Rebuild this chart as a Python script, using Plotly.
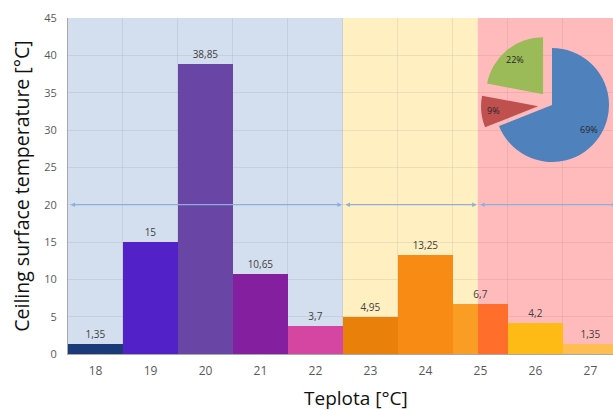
import math
import plotly.graph_objects as go

# ---- data -------------------------------------------------------------
temps = [18, 19, 20, 21, 22, 23, 24, 25, 26, 27]
share = [1.35, 15, 38.85, 10.65, 3.7, 4.95, 13.25, 6.7, 4.2, 1.35]
bar_colors = ['#1B3A78', '#5321C8', '#6945A6', '#8420A0', '#D446A2',
              '#E98009', '#F78B13', '#F99D25', '#FFBB15', '#FFBE52']
bar_labels = [f"{v:g}".replace('.', ',') for v in share]

zone_bounds = [(17.5, 22.5), (22.5, 24.95), (24.95, 27.5)]
zone_colors = ['#D3DEEF', '#FFEFC1', '#FFBBBB']
warm_bar_color = '#FF6E2A'   # part of a bar lying inside the warm zone

pie_values = [69, 9, 22]
pie_colors = ['#4F81BD', '#C0504D', '#9BBB59']

# ---- geometry (pixels) ---------------------------------------------------
W, H = 613, 410
ML, MR, MT, MB = 68, 0, 18, 56
plot_l, plot_r, plot_t, plot_b = ML, W - MR, MT, H - MB
pw, ph = plot_r - plot_l, plot_b - plot_t
x_range = [17.5, 27.41]

FONT = 'Open Sans'

fig = go.Figure()

# histogram bars
fig.add_trace(go.Bar(
    x=temps, y=share, marker=dict(color=bar_colors, line=dict(width=0)),
    text=bar_labels, textposition='outside', cliponaxis=False,
    constraintext='none',
    textfont=dict(family=FONT, size=10, color='#404040'),
    hoverinfo='x+y', showlegend=False,
))

# bar portions that fall inside the warm zone get a warmer tint
warm_start = zone_bounds[2][0]
for t, v in zip(temps, share):
    if t - 0.5 < warm_start < t + 0.5:
        fig.add_trace(go.Bar(
            x=[t], y=[v], offset=warm_start - t, width=t + 0.5 - warm_start,
            marker=dict(color=warm_bar_color, line=dict(width=0)),
            hoverinfo='skip', showlegend=False,
        ))

# coloured zones behind the plot
for (x0, x1), c in zip(zone_bounds, zone_colors):
    fig.add_shape(type='rect', xref='x', yref='y', x0=x0, x1=x1, y0=0, y1=45,
                  fillcolor=c, line=dict(width=0), layer='below')

# double-headed arrows marking each zone at 20 °C
for x0, x1 in zone_bounds:
    fig.add_annotation(x=x1, y=20, ax=x0, ay=20, xref='x', yref='y',
                       axref='x', ayref='y', text='', showarrow=True,
                       arrowside='end+start', arrowhead=2, arrowsize=0.7,
                       arrowwidth=1.3, arrowcolor='#8DB0DA',
                       standoff=1, startstandoff=1)

# ---- inset pie, drawn as one trace per slice so slices can be offset ----
pie_cx, pie_cy, pie_r, pull_px = 552, 105, 57, 14
label_k = 0.78   # radial position of the percent labels, fraction of radius


def domain_at(cx, cy, r):
    return dict(x=[(cx - r - plot_l) / pw, (cx + r - plot_l) / pw],
                y=[(plot_b - (cy + r)) / ph, (plot_b - (cy - r)) / ph])


total = sum(pie_values)
cum = 0
for i, v in enumerate(pie_values):
    mid = 2 * math.pi * (cum + v / 2) / total   # clockwise from 12 o'clock
    cum += v
    pull = 0 if i == 0 else pull_px
    cx = pie_cx + pull * math.sin(mid)
    cy = pie_cy - pull * math.cos(mid)
    colors = ['rgba(0,0,0,0)'] * len(pie_values)
    colors[i] = pie_colors[i]
    fig.add_trace(go.Pie(
        values=pie_values, sort=False, direction='clockwise', rotation=0,
        marker=dict(colors=colors, line=dict(width=0)),
        textinfo='none', domain=domain_at(cx, cy, pie_r),
        hoverinfo='skip', showlegend=False,
    ))
    # percent label of this slice
    lx = cx + label_k * pie_r * math.sin(mid)
    ly = cy - label_k * pie_r * math.cos(mid)
    fig.add_annotation(text=f"{round(100 * v / total)}%", xref='paper',
                       yref='paper', x=(lx - plot_l) / pw,
                       y=(plot_b - ly) / ph, xanchor='center',
                       yanchor='middle', showarrow=False,
                       font=dict(family=FONT, size=9, color='#262626'))

# x-axis title placed as an annotation below the tick labels
fig.add_annotation(text='Teplota [°C]', xref='paper', yref='paper',
                   x=(356 - plot_l) / pw, y=-(398 - plot_b) / ph,
                   xanchor='center', yanchor='middle', showarrow=False,
                   font=dict(family=FONT, size=19, color='#111111'))

grid_c = 'rgba(110,110,110,0.13)'
fig.update_layout(
    width=W, height=H,
    margin=dict(l=ML, r=MR, t=MT, b=MB, autoexpand=False),
    paper_bgcolor='white', plot_bgcolor='white',
    bargap=0, barmode='overlay', showlegend=False,
    font=dict(family=FONT, color='#595959'),
    xaxis=dict(
        range=x_range, tickmode='linear', tick0=18, dtick=1,
        showgrid=False, zeroline=False, ticks='',
        minor=dict(tick0=17.5, dtick=1, showgrid=True, gridcolor=grid_c,
                   gridwidth=1),
        showline=True, linecolor='#A8A8A8', linewidth=1,
        tickfont=dict(family=FONT, size=12, color='#595959'),
        ticklabelstandoff=6,
    ),
    yaxis=dict(
        range=[0, 45], tickmode='linear', tick0=0, dtick=5,
        showgrid=True, gridcolor=grid_c, gridwidth=1, zeroline=False,
        ticks='', showline=True, linecolor='#A8A8A8', linewidth=1,
        tickfont=dict(family=FONT, size=11, color='#595959'),
        ticklabelstandoff=8,
        title=dict(text='Ceiling surface temperature [°C]', standoff=9,
                   font=dict(family=FONT, size=19.5, color='#111111')),
    ),
)

fig.write_html("out.html")
